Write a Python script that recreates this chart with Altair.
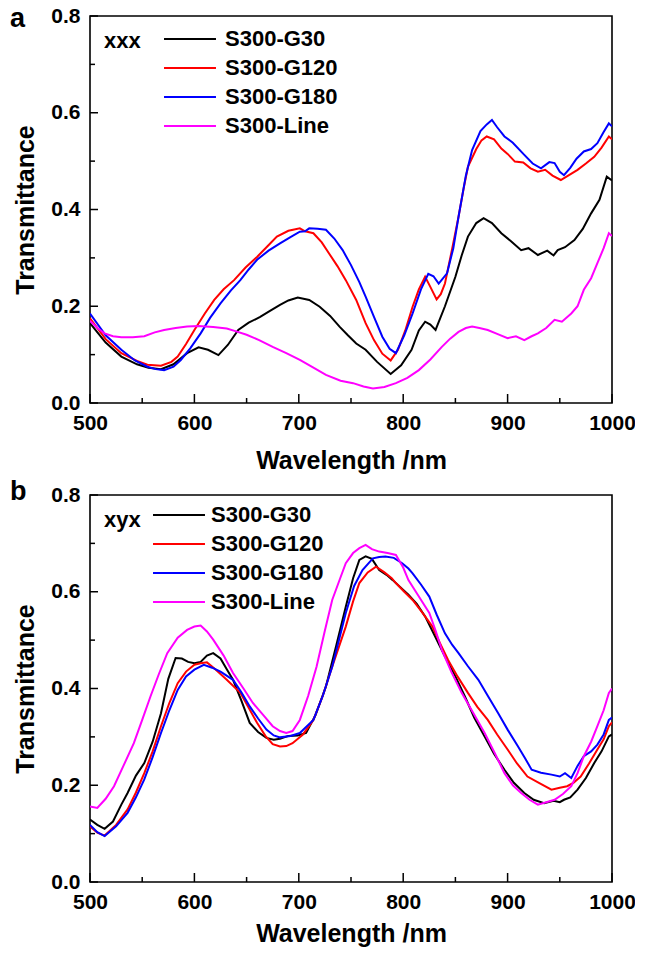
import altair as alt
import pandas as pd

FONT = "Liberation Sans"
SERIES = ["S300-G30", "S300-G120", "S300-G180", "S300-Line"]
COLORS = ["#000000", "#ff0000", "#0000ff", "#ff00ff"]

# ---------------- panel a ----------------
a_g30_wl = [500, 515, 530, 545, 556, 568, 580, 593, 604, 613, 623, 632, 642, 652, 663, 672, 682, 690, 699, 710,
            720, 730, 739, 747, 755, 764, 775, 788, 798, 808, 815, 821, 826, 831, 840, 850, 856, 862, 870, 877,
            885, 894, 903, 913, 920, 929, 938, 944, 948, 955, 964, 972, 980, 988, 995, 1000]
a_g30_t = [0.165, 0.125, 0.096, 0.080, 0.073, 0.070, 0.080, 0.103, 0.115, 0.110, 0.099, 0.120, 0.151, 0.166,
           0.178, 0.190, 0.203, 0.212, 0.218, 0.213, 0.199, 0.180, 0.158, 0.140, 0.123, 0.110, 0.085, 0.060,
           0.078, 0.110, 0.150, 0.168, 0.162, 0.151, 0.200, 0.261, 0.305, 0.344, 0.372, 0.382, 0.372, 0.351,
           0.335, 0.316, 0.320, 0.306, 0.315, 0.305, 0.316, 0.322, 0.337, 0.360, 0.392, 0.420, 0.468, 0.460]

a_g120_wl = [500, 515, 530, 545, 555, 568, 578, 584, 592, 600, 610, 619, 628, 638, 649, 660, 670, 679, 690, 701,
             706, 714, 722, 729, 737, 745, 755, 764, 772, 780, 788, 795, 802, 809, 815, 821, 826, 832, 836, 840,
             847, 853, 858, 862, 870, 875, 880, 887, 894, 900, 907, 915, 922, 929, 936, 943, 951, 958, 967, 975,
             983, 990, 997, 1000]
a_g120_t = [0.175, 0.132, 0.103, 0.087, 0.079, 0.077, 0.085, 0.096, 0.122, 0.151, 0.185, 0.213, 0.235, 0.254,
            0.280, 0.302, 0.324, 0.344, 0.356, 0.361, 0.355, 0.351, 0.332, 0.309, 0.283, 0.254, 0.213, 0.165,
            0.130, 0.102, 0.088, 0.110, 0.150, 0.199, 0.235, 0.261, 0.240, 0.214, 0.225, 0.247, 0.320, 0.385,
            0.445, 0.488, 0.525, 0.543, 0.551, 0.545, 0.526, 0.515, 0.499, 0.497, 0.485, 0.478, 0.482, 0.470,
            0.461, 0.470, 0.482, 0.495, 0.509, 0.528, 0.551, 0.545]

a_g180_wl = [500, 515, 530, 543, 555, 563, 571, 580, 587, 596, 606, 615, 625, 635, 644, 652, 660, 671, 682, 692,
             701, 706, 710, 718, 726, 734, 742, 750, 758, 764, 772, 780, 787, 793, 801, 809, 817, 824, 829, 834,
             842, 848, 853, 860, 866, 874, 880, 885, 890, 897, 905, 916, 924, 932, 940, 945, 950, 954, 960, 966,
             973, 980, 986, 992, 997, 1000]
a_g180_t = [0.185, 0.140, 0.110, 0.088, 0.075, 0.070, 0.068, 0.075, 0.089, 0.113, 0.144, 0.176, 0.206, 0.233,
            0.254, 0.276, 0.296, 0.315, 0.330, 0.343, 0.354, 0.355, 0.361, 0.360, 0.358, 0.340, 0.316, 0.285,
            0.250, 0.220, 0.178, 0.137, 0.112, 0.103, 0.140, 0.185, 0.235, 0.267, 0.262, 0.247, 0.268, 0.320,
            0.385, 0.470, 0.523, 0.562, 0.576, 0.585, 0.570, 0.551, 0.538, 0.513, 0.495, 0.485, 0.498, 0.496,
            0.478, 0.471, 0.486, 0.505, 0.520, 0.525, 0.537, 0.560, 0.578, 0.572]

a_line_wl = [500, 507, 514, 522, 530, 541, 552, 562, 571, 582, 593, 604, 618, 631, 640, 650, 662, 675, 688, 701,
             714, 726, 740, 752, 762, 771, 782, 793, 804, 815, 826, 837, 845, 853, 860, 866, 873, 881, 890, 900,
             908, 916, 923, 929, 937, 945, 952, 961, 967, 973, 980, 986, 992, 997, 1000]
a_line_t = [0.170, 0.155, 0.144, 0.138, 0.136, 0.136, 0.138, 0.146, 0.151, 0.155, 0.158, 0.159, 0.157, 0.154,
            0.148, 0.141, 0.130, 0.116, 0.103, 0.089, 0.073, 0.058, 0.046, 0.041, 0.034, 0.030, 0.033, 0.041,
            0.052, 0.068, 0.090, 0.116, 0.133, 0.147, 0.155, 0.158, 0.155, 0.151, 0.143, 0.134, 0.138, 0.130,
            0.138, 0.144, 0.155, 0.172, 0.168, 0.185, 0.200, 0.234, 0.258, 0.289, 0.320, 0.351, 0.345]

# ---------------- panel b ----------------
b_g30_wl = [500, 507, 514, 522, 530, 536, 544, 552, 560, 568, 575, 582, 588, 594, 600, 606, 612, 618, 625, 631,
            637, 645, 653, 661, 669, 676, 682, 690, 699, 707, 716, 726, 736, 745, 752, 758, 764, 770, 777, 784,
            790, 797, 805, 813, 821, 830, 840, 850, 859, 868, 878, 887, 897, 906, 916, 925, 935, 944, 950, 954,
            960, 967, 975, 983, 990, 997, 1000]
b_g30_t = [0.129, 0.118, 0.110, 0.125, 0.160, 0.184, 0.220, 0.246, 0.290, 0.349, 0.420, 0.463, 0.462, 0.455,
           0.452, 0.455, 0.468, 0.473, 0.462, 0.440, 0.418, 0.375, 0.329, 0.310, 0.298, 0.294, 0.296, 0.302,
           0.303, 0.308, 0.345, 0.404, 0.490, 0.569, 0.628, 0.666, 0.673, 0.668, 0.645, 0.635, 0.624, 0.610,
           0.594, 0.575, 0.549, 0.510, 0.466, 0.425, 0.384, 0.340, 0.301, 0.265, 0.232, 0.205, 0.184, 0.170,
           0.163, 0.168, 0.165, 0.170, 0.175, 0.191, 0.215, 0.246, 0.270, 0.301, 0.305]

b_g120_wl = [500, 507, 514, 525, 536, 544, 552, 560, 568, 576, 584, 592, 600, 606, 612, 620, 631, 644, 652, 660,
             668, 675, 682, 688, 694, 704, 714, 723, 732, 745, 752, 758, 766, 774, 782, 789, 793, 801, 809, 818,
             828, 835, 843, 852, 862, 871, 881, 890, 900, 909, 919, 930, 942, 950, 957, 963, 970, 978, 986, 992,
             997, 1000]
b_g120_t = [0.115, 0.102, 0.096, 0.118, 0.150, 0.185, 0.225, 0.270, 0.322, 0.370, 0.411, 0.435, 0.449, 0.452,
            0.454, 0.440, 0.418, 0.391, 0.360, 0.329, 0.302, 0.285, 0.280, 0.281, 0.287, 0.305, 0.335, 0.385,
            0.445, 0.528, 0.580, 0.618, 0.640, 0.652, 0.640, 0.628, 0.618, 0.600, 0.583, 0.558, 0.528, 0.495,
            0.459, 0.425, 0.391, 0.362, 0.335, 0.305, 0.274, 0.245, 0.218, 0.205, 0.191, 0.195, 0.198, 0.205,
            0.218, 0.245, 0.274, 0.295, 0.322, 0.330]

b_g180_wl = [500, 507, 514, 525, 536, 544, 552, 560, 568, 576, 584, 592, 600, 609, 617, 625, 637, 645, 653, 661,
             669, 676, 682, 692, 701, 714, 723, 732, 745, 753, 761, 771, 777, 783, 791, 799, 805, 809, 817, 825,
             832, 840, 847, 853, 862, 872, 881, 891, 900, 910, 917, 923, 932, 942, 950, 955, 961, 967, 973, 980,
             986, 992, 997, 1000]
b_g180_t = [0.118, 0.103, 0.095, 0.115, 0.143, 0.175, 0.212, 0.258, 0.308, 0.355, 0.397, 0.425, 0.439, 0.449,
            0.443, 0.435, 0.418, 0.392, 0.363, 0.338, 0.315, 0.303, 0.299, 0.302, 0.308, 0.335, 0.385, 0.445,
            0.556, 0.612, 0.645, 0.669, 0.672, 0.673, 0.670, 0.659, 0.648, 0.638, 0.615, 0.590, 0.553, 0.514,
            0.490, 0.473, 0.446, 0.418, 0.385, 0.349, 0.315, 0.280, 0.255, 0.232, 0.226, 0.222, 0.218, 0.225,
            0.215, 0.240, 0.260, 0.270, 0.284, 0.305, 0.335, 0.340]

b_line_wl = [500, 507, 515, 523, 532, 542, 550, 558, 566, 574, 584, 593, 600, 606, 612, 618, 628, 637, 647, 656,
             666, 675, 682, 688, 694, 701, 709, 717, 725, 732, 740, 745, 752, 758, 764, 770, 777, 785, 793, 800,
             805, 815, 825, 831, 837, 846, 856, 867, 878, 888, 897, 905, 913, 921, 929, 937, 945, 953, 961, 967,
             973, 980, 986, 992, 997, 1000]
b_line_t = [0.156, 0.153, 0.172, 0.198, 0.240, 0.287, 0.335, 0.384, 0.430, 0.473, 0.505, 0.521, 0.528, 0.530,
            0.518, 0.501, 0.468, 0.432, 0.400, 0.370, 0.345, 0.322, 0.312, 0.308, 0.312, 0.335, 0.385, 0.445,
            0.520, 0.583, 0.630, 0.659, 0.680, 0.690, 0.697, 0.688, 0.683, 0.680, 0.676, 0.650, 0.624, 0.590,
            0.556, 0.520, 0.480, 0.435, 0.391, 0.350, 0.308, 0.265, 0.225, 0.200, 0.184, 0.170, 0.160, 0.165,
            0.170, 0.182, 0.198, 0.225, 0.260, 0.290, 0.322, 0.355, 0.391, 0.400]

X_MAJOR = [500, 600, 700, 800, 900, 1000]
X_MINOR = [550, 650, 750, 850, 950]
Y_MAJOR = [0.0, 0.2, 0.4, 0.6, 0.8]
Y_MINOR = [0.1, 0.3, 0.5, 0.7]

W, H = 522, 387


def long_df(parts):
    rows = []
    for name, wl, t in parts:
        for a, b in zip(wl, t):
            rows.append({"series": name, "wl": a, "t": b})
    return pd.DataFrame(rows)


xscale = alt.Scale(domain=[500, 1000], nice=False, zero=False)
yscale = alt.Scale(domain=[0, 0.8], nice=False, zero=False)


def x_axis(title_pad):
    return alt.Axis(values=X_MAJOR, format="d", title="Wavelength /nm", ticks=False, domain=False,
                    grid=False, labelFlush=False, labelOverlap=False, labelFont=FONT, labelFontSize=21,
                    labelFontWeight="bold", labelColor="black", labelPadding=9, titleFont=FONT,
                    titleFontSize=25, titleFontWeight="bold", titleColor="black", titlePadding=title_pad)


YAXIS = alt.Axis(values=Y_MAJOR, format=".1f", title="Transmittance", ticks=False, domain=False,
                 grid=False, labelFlush=False, labelOverlap=False, labelFont=FONT, labelFontSize=21,
                 labelFontWeight="bold", labelColor="black", labelPadding=10, titleFont=FONT,
                 titleFontSize=25, titleFontWeight="bold", titleColor="black", titlePadding=12)


def panel(df, letter, note, letter_y, legend_x, legend_y, label_offset, title_pad):
    xaxis = x_axis(title_pad)
    lines = alt.Chart(df).mark_line(strokeWidth=2, clip=True).encode(
        x=alt.X("wl:Q", scale=xscale, axis=xaxis),
        y=alt.Y("t:Q", scale=yscale, axis=YAXIS),
        color=alt.Color("series:N", scale=alt.Scale(domain=SERIES, range=COLORS),
                        legend=alt.Legend(orient="none", legendX=legend_x, legendY=legend_y, title=None,
                                          symbolType="M-5,0L5,0", symbolSize=108, symbolStrokeWidth=2,
                                          labelFont=FONT, labelFontSize=22, labelFontWeight="bold",
                                          labelColor="black", labelOffset=label_offset, rowPadding=7,
                                          padding=0)),
    )

    def xt(vals, ln):
        return alt.Chart(pd.DataFrame({"wl": vals})).mark_rule(color="black", strokeWidth=1.5).encode(
            x=alt.X("wl:Q", scale=xscale, axis=xaxis), y=alt.value(H), y2=alt.value(H - ln))

    def yt(vals, ln):
        return alt.Chart(pd.DataFrame({"t": vals})).mark_rule(color="black", strokeWidth=1.5).encode(
            y=alt.Y("t:Q", scale=yscale, axis=YAXIS), x=alt.value(0), x2=alt.value(ln))

    note_t = alt.Chart(pd.DataFrame({"s": [note]})).mark_text(
        font=FONT, fontSize=22, fontWeight="bold", align="left", baseline="alphabetic", color="black"
    ).encode(text="s:N", x=alt.value(14), y=alt.value(32))
    letter_t = alt.Chart(pd.DataFrame({"s": [letter]})).mark_text(
        font=FONT, fontSize=27, fontWeight="bold", align="left", baseline="alphabetic", color="black"
    ).encode(text="s:N", x=alt.value(-80), y=alt.value(letter_y))

    return alt.layer(lines, xt(X_MAJOR, 9), xt(X_MINOR, 5), yt(Y_MAJOR, 8), yt(Y_MINOR, 5),
                     note_t, letter_t).properties(width=W, height=H)


df_a = long_df([("S300-G30", a_g30_wl, a_g30_t), ("S300-G120", a_g120_wl, a_g120_t),
                ("S300-G180", a_g180_wl, a_g180_t), ("S300-Line", a_line_wl, a_line_t)])
df_b = long_df([("S300-G30", b_g30_wl, b_g30_t), ("S300-G120", b_g120_wl, b_g120_t),
                ("S300-G180", b_g180_wl, b_g180_t), ("S300-Line", b_line_wl, b_line_t)])

pa = panel(df_a, "a", "xxx", 11, 89, 12, 24, 15)
pb = panel(df_b, "b", "xyx", 5, 78, 9, 21, 9)

chart = alt.vconcat(pa, pb, spacing=92, bounds="flush").resolve_scale(color="independent").properties(
    padding={"left": 1, "top": -4, "right": -2, "bottom": 4}
).configure(background="white").configure_view(stroke="black", strokeWidth=1.6)

chart.save("out.html", embed_options={"renderer": "svg", "actions": False})
